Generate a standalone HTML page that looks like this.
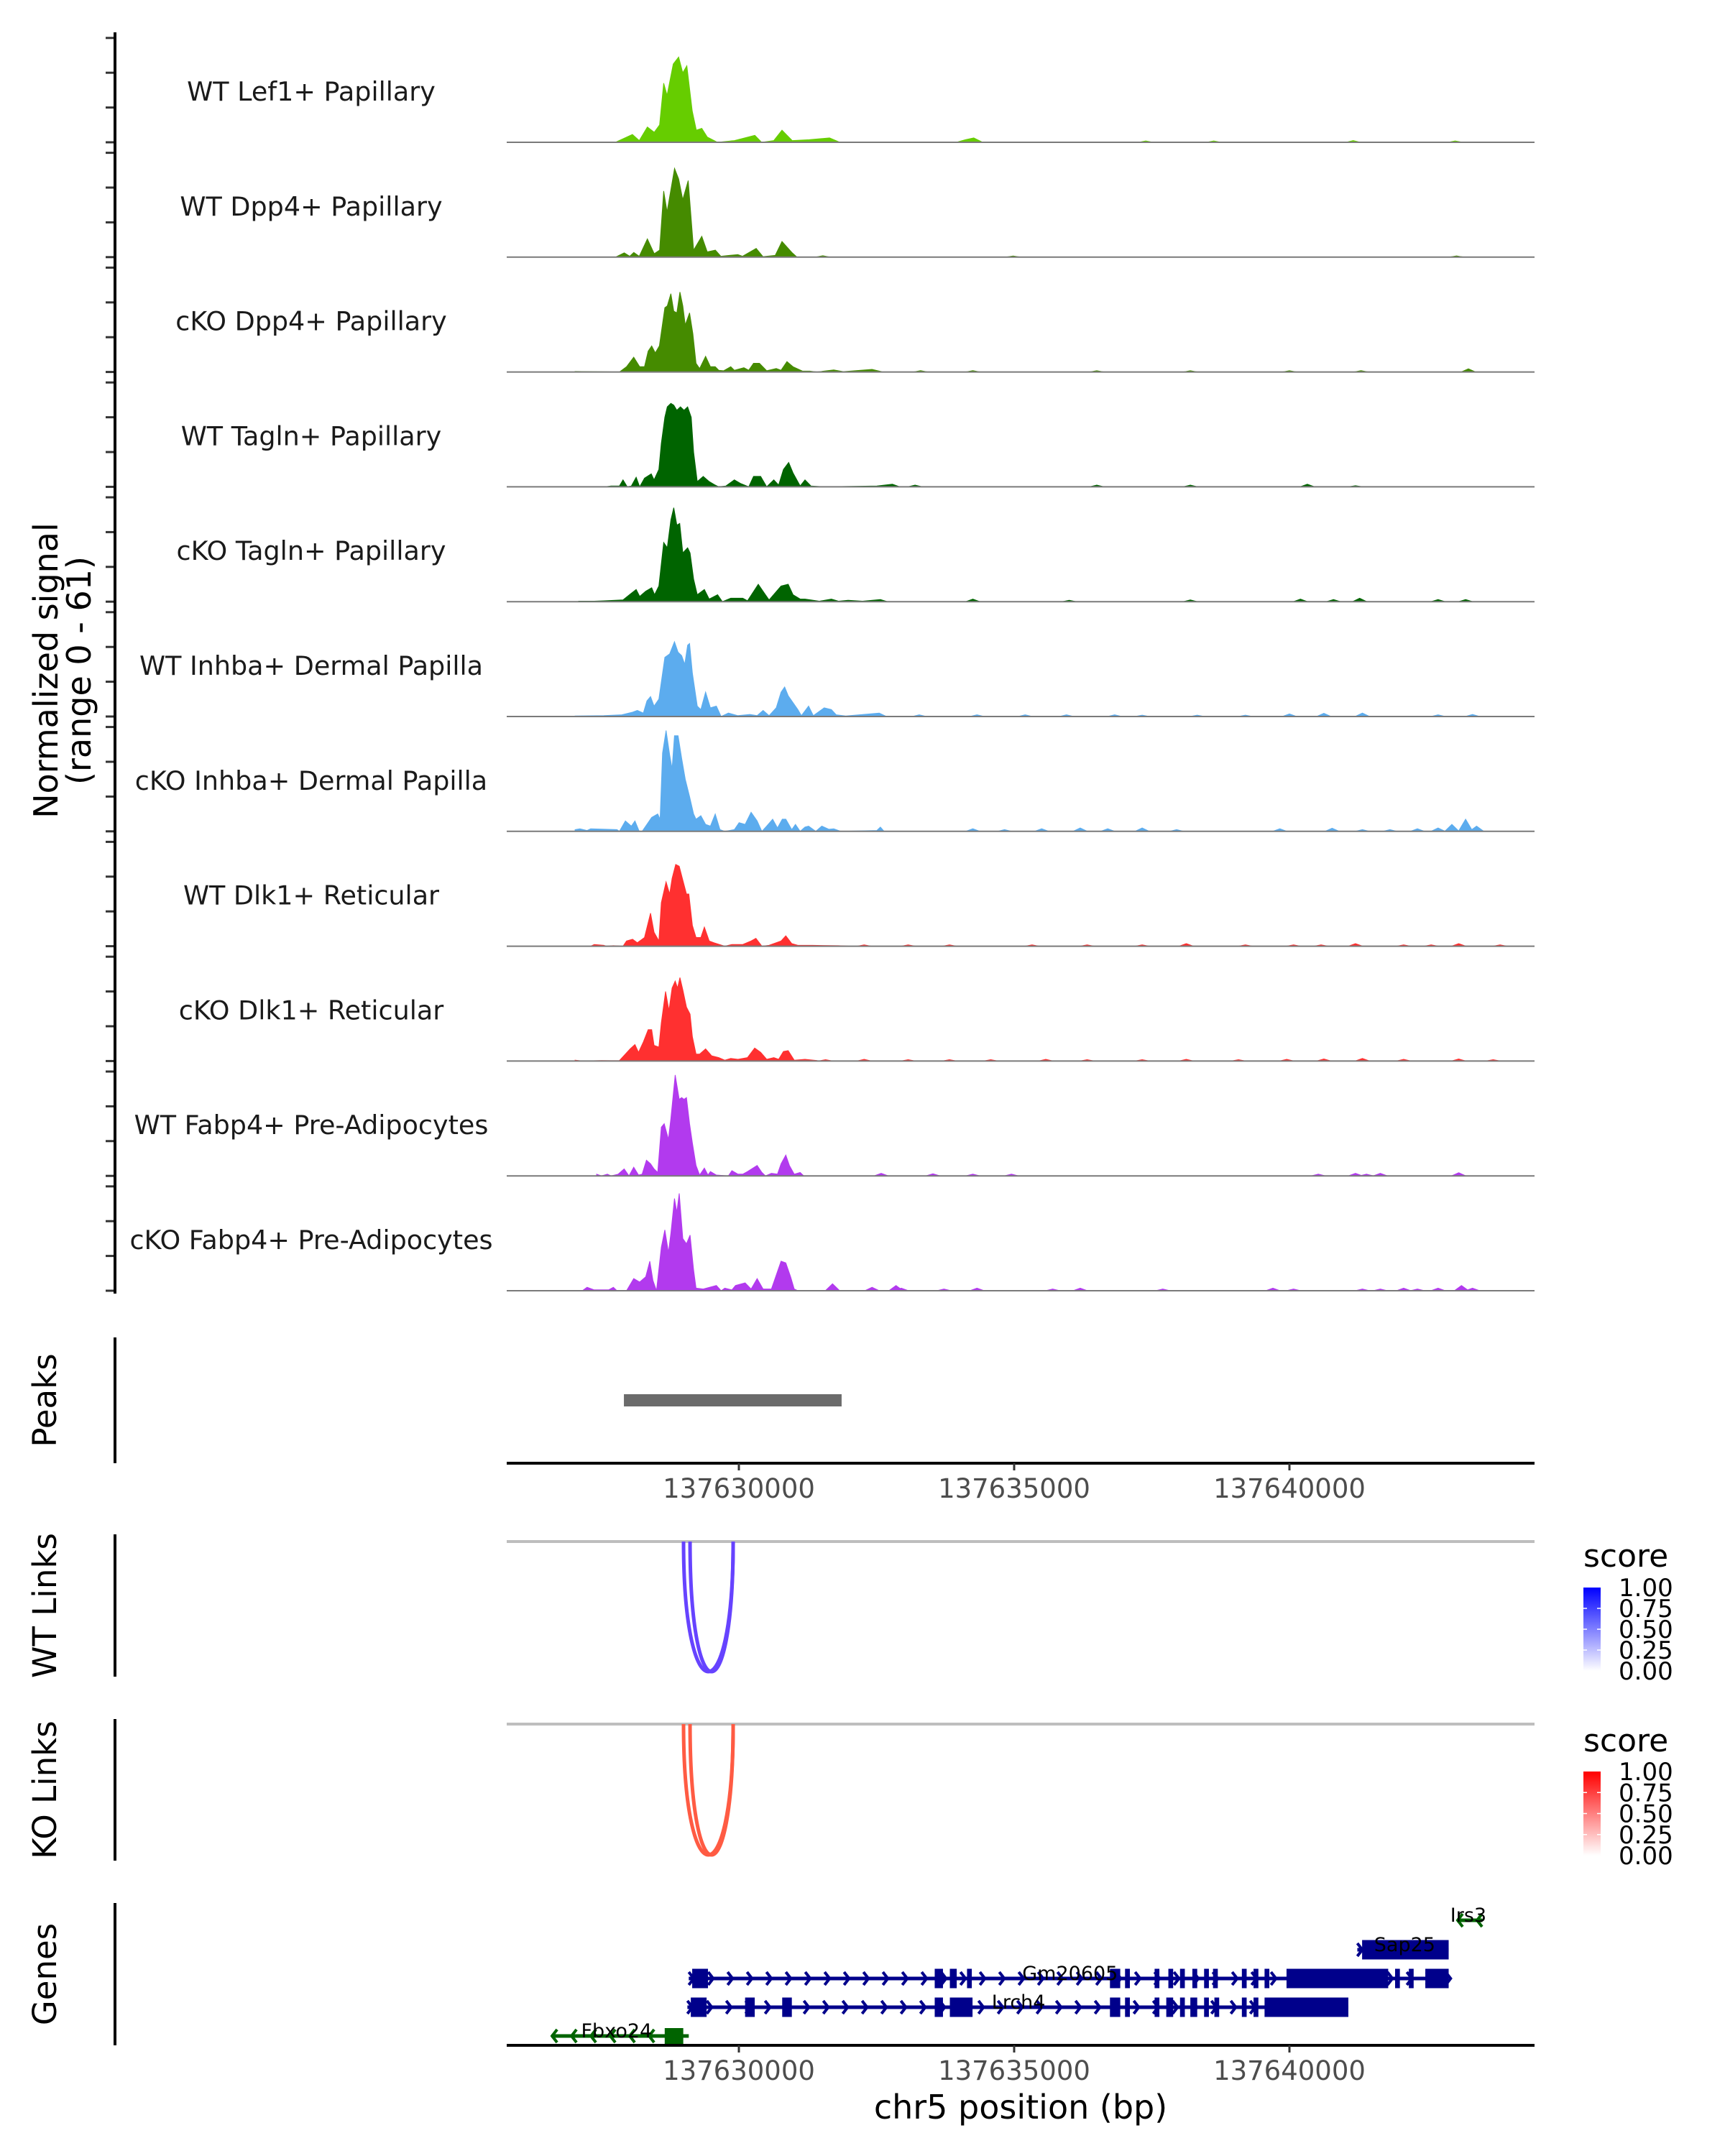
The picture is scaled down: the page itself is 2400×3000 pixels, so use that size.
<!DOCTYPE html>
<html>
<head>
<meta charset="utf-8">
<style>
  html, body { margin: 0; padding: 0; background: #ffffff; }
  svg { display: block; }
  text { font-family: "DejaVu Sans", "Liberation Sans", sans-serif; }
</style>
</head>
<body>
<svg id="chart" xmlns="http://www.w3.org/2000/svg" width="2400" height="3000" viewBox="0 0 2400 3000">
  <rect x="0" y="0" width="2400" height="3000" fill="#ffffff"/>
</svg>
<script>
// ---------------- DATA ----------------
const trackNames = ["WT Lef1+ Papillary","WT Dpp4+ Papillary","cKO Dpp4+ Papillary","WT Tagln+ Papillary","cKO Tagln+ Papillary","WT Inhba+ Dermal Papilla","cKO Inhba+ Dermal Papilla","WT Dlk1+ Reticular","cKO Dlk1+ Reticular","WT Fabp4+ Pre-Adipocytes","cKO Fabp4+ Pre-Adipocytes"];
const trackColors = ["#66CD00","#458B00","#458B00","#006400","#006400","#5CACEE","#5CACEE","#FF3030","#FF3030","#B23AEE","#B23AEE"];
const xTickValues = [137630000, 137635000, 137640000];
const xTickLabels = ["137630000", "137635000", "137640000"];
const yTickValues = [0, 20, 40, 60];

const t1Pos = [137627758,137628067,137628190,137628338,137628462,137628560,137628635,137628696,137628808,137628906,137628980,137629055,137629153,137629227,137629326,137629425,137629610,137629919,137630290,137630413,137630635,137630783,137630969,137631278,137631648,137631833,137633950,137634118,137634266,137634427];
const t1Val = [0,4.5,1,8.8,5.8,10,34,27,45,49,40,44,18,7,8,3,0,1,4,0,1,7,1,1.5,2.5,0,0,1.5,2.5,0];
const t1BumpPos = [137637390,137638625,137641158,137643010];
const t1BumpVal = [0.8,0.8,1,0.8];

const t2Pos = [137627758,137627918,137628017,137628091,137628190,137628338,137628462,137628560,137628635,137628696,137628832,137628906,137628980,137629079,137629178,137629326,137629425,137629573,137629672,137629980,137630067,137630314,137630437,137630660,137630783,137630969,137631055];
const t2Val = [0,2.5,0.5,2.7,0.5,10.5,2,4,38,26,51,45,33,44,4,12,3,4,0.5,1.5,0.5,5,0.3,1,9,2.5,0];
const t2BumpPos = [137631525,137634982,137643035];
const t2BumpVal = [0.8,0.6,0.7];

const t3Pos = [137627025,137627830,137627960,137628090,137628199,137628286,137628352,137628417,137628482,137628556,137628656,137628700,137628765,137628817,137628874,137628930,137628982,137629026,137629104,137629165,137629222,137629287,137629396,137629483,137629570,137629635,137629722,137629852,137629918,137630092,137630179,137630266,137630374,137630505,137630679,137630766,137630874,137630983,137631158,137631288,137631419,137631723,137631897,137632419,137632593];
const t3Val = [0.3,0,3,8.5,3,3,12,15,11,15,37,38,45,35,34,46,38,27,34,22,5,2,9,3,3,1,0.7,3,1,2.5,1,5,5,0.7,2,1,6,3,0.5,0.5,0,1.2,0.2,1.5,0.2];
const t3BumpPos = [137633300,137634250,137636500,137638200,137640000,137641300,137643250];
const t3BumpVal = [0.8,0.8,0.7,0.7,0.7,0.8,1.8];

const t4Pos = [137627569,137627677,137627830,137627895,137627973,137628047,137628134,137628199,137628286,137628408,137628460,137628547,137628591,137628656,137628700,137628765,137628817,137628874,137628939,137629004,137629069,137629135,137629178,137629244,137629352,137629461,137629570,137629635,137629765,137629918,137630026,137630179,137630266,137630396,137630505,137630635,137630722,137630809,137630905,137630983,137631114,137631201,137631310,137631549,137632506,137632789,137632898];
const t4Val = [0,0.5,0.5,4,0,0.5,5.5,0,5,7.5,4,10,25,40,46,48,47,44,46,44,46,40,20,3,6,3,1,0,0.5,4,2,0,6,6,0,4,1,10,14,8,0.5,4,0.5,0,0.5,1.5,0.3];
const t4BumpPos = [137633200,137636500,137638200,137640325,137641200];
const t4BumpVal = [1,1,1,1.5,0.6];

const t5Pos = [137627090,137627373,137627547,137627895,137628034,137628134,137628199,137628308,137628417,137628469,137628547,137628634,137628700,137628765,137628817,137628874,137628926,137628982,137629069,137629113,137629178,137629244,137629374,137629461,137629613,137629700,137629852,137630070,137630157,137630353,137630461,137630548,137630766,137630896,137630983,137631114,137631201,137631462,137631680,137631810,137631984,137632245,137632571,137632680];
const t5Val = [0.3,0.3,0.5,1,4.5,7,3,6,8,4,9,34,31,47,54,44,45,28,31,28,13,4,7,1.5,4,0,2,2,0.5,10,5,1,9,10,4,1.5,1.5,0.3,1.5,0.3,0.8,0.3,1.2,0.2];
const t5BumpPos = [137634250,137636000,137638200,137640200,137640800,137641275,137642700,137643200];
const t5BumpVal = [1.5,0.8,1,1.5,1.2,2,1.2,1.2];

const t6Pos = [137627025,137627547,137627873,137628069,137628156,137628265,137628330,137628395,137628460,137628547,137628656,137628743,137628830,137628895,137628961,137629017,137629069,137629104,137629156,137629244,137629309,137629396,137629483,137629591,137629678,137629809,137629983,137630200,137630331,137630440,137630548,137630679,137630766,137630831,137630896,137630983,137631070,137631136,137631266,137631353,137631549,137631680,137631767,137631941,137632550,137632680];
const t6Val = [0.3,0.5,1,2.5,3.5,2,9,11.5,6,10,34,36,43,37,35,30,41,42,25,6,4,14,5,6,0,2,0.5,1.2,0.5,3.5,0.5,5,14,17,12,8,4,0.5,6,0.5,5,4,1,0.3,2,0];
const t6BumpPos = [137633275,137634325,137635200,137635950,137636825,137637325,137638325,137639200,137640000,137640625,137641325,137642700,137643325];
const t6BumpVal = [1,1,1,1,1,0.8,0.8,0.8,1.5,1.8,2,1,1.2];

const t7Pos = [137627025,137627112,137627243,137627308,137627786,137627830,137627938,137628047,137628112,137628191,137628243,137628417,137628526,137628569,137628613,137628678,137628743,137628787,137628830,137628895,137628961,137629026,137629104,137629178,137629222,137629309,137629396,137629483,137629570,137629657,137629744,137629918,137630004,137630113,137630222,137630331,137630418,137630505,137630614,137630701,137630788,137630853,137630961,137631027,137631114,137631201,137631266,137631397,137631506,137631636,137631723,137631854,137632506,137632571,137632637];
const t7Val = [1,1.5,0.5,1.5,1,0,6,3,6,0,0,8,10,7,45,58,44,36,55,55,42,30,20,10,7,9,4,3,10,1,0,1,5,4,11,6,0,3,7,2,7,7,1,4,0,2.5,3,0,3,1.2,1.5,0,0.5,2.5,0];
const t7BumpPos = [137634250,137634825,137635500,137636200,137636700,137637325,137637950,137639825,137640775,137641325,137641825,137642325,137642700,137642950,137643200,137643400];
const t7BumpVal = [1.5,1,1.5,2,1.5,2,1,1.5,1.8,1,1,1.5,2,4,7,3];

const t8Pos = [137627308,137627373,137627547,137627590,137627721,137627895,137627960,137628069,137628156,137628286,137628395,137628460,137628547,137628591,137628678,137628743,137628787,137628852,137628917,137628982,137629048,137629091,137629156,137629222,137629309,137629374,137629461,137629548,137629744,137629874,137630070,137630222,137630309,137630418,137630548,137630766,137630853,137630961,137631070,137631332,137631810,137632028];
const t8Val = [0,1,0.5,0,0.3,0,3,4,2,5,19,8,3,25,37,30,39,47,46,38,30,30,12,5,5,11,3,2,0,1,1,3,4.5,0,0.5,3,6,1.5,0.5,0.5,0.3,0];
const t8BumpPos = [137632275,137633075,137633825,137635325,137636325,137637325,137638125,137639200,137640075,137640575,137641200,137642075,137642575,137643075,137643825];
const t8BumpVal = [0.8,0.8,0.8,0.8,0.8,0.8,1.5,0.8,0.8,0.8,1.5,0.8,0.8,1.5,0.8];

const t9Pos = [137627025,137627155,137627504,137627677,137627830,137627938,137628025,137628112,137628178,137628265,137628352,137628417,137628460,137628547,137628591,137628669,137628730,137628787,137628843,137628887,137628930,137628982,137629048,137629113,137629156,137629222,137629287,137629396,137629505,137629635,137629744,137629852,137629983,137630157,137630287,137630396,137630505,137630635,137630722,137630809,137630896,137631005,137631201,137631419];
const t9Val = [0.5,0,0.3,0.2,0.3,4,7,9.5,5,11,18,18,9,8,22,40,29,42,46,42,48,41,31,27,14,4,4,7,3,2,0.5,1.5,1,2,7.5,5,1,2,1,5.5,6,0.5,1,0.3];
const t9BumpPos = [137631575,137632275,137633075,137633825,137634575,137635575,137636325,137637325,137638125,137639075,137639950,137640625,137641325,137642075,137643075,137643700];
const t9BumpVal = [0.8,1,0.8,0.8,0.8,1,0.8,0.8,1,0.8,1,1.2,1.5,1,1.2,0.8];

const t10Pos = [137627417,137627504,137627612,137627677,137627808,137627917,137628004,137628090,137628178,137628243,137628321,137628395,137628460,137628526,137628591,137628643,137628721,137628765,137628843,137628917,137628961,137629004,137629048,137629104,137629156,137629222,137629287,137629374,137629439,137629483,137629591,137629809,137629874,137629983,137630070,137630157,137630331,137630418,137630483,137630592,137630701,137630766,137630853,137630918,137631005,137631114,137631179];
const t10Val = [1,0,1,0,1,4,0,5,0.5,1,9,7,4,2,28,30,21,33,58,44,45,44,45,30,19,6,0.5,4.5,0.5,2.5,0.5,0,3,1,1,2.5,6,2,0,1.5,1,7,12,6,1,2,0];
const t10BumpPos = [137632585,137633525,137634250,137634950,137640525,137641200,137641400,137641650,137643075];
const t10BumpVal = [1.5,1.2,1,1,1,1.5,1,1.5,1.8];

const t11Pos = [137627155,137627243,137627373,137627634,137627721,137627786,137627960,137628090,137628199,137628308,137628382,137628439,137628504,137628591,137628656,137628721,137628765,137628830,137628874,137628917,137628982,137629048,137629113,137629178,137629222,137629352,137629591,137629678,137629744,137629874,137629939,137630113,137630222,137630331,137630440,137630592,137630766,137630853,137630940,137631005,137631070];
const t11Val = [0,2,0.5,0.5,2,0,0,7,5,8,17,6,0,25,35,22,33,53,45,56,30,27,32,12,1.5,1,3,0,1.5,0.5,3,4.5,1,7,1,1,17,16,8,1,0];
const t11BumpPos = [137631701,137632419,137632854,137632950,137633725,137634325,137635700,137636200,137637700,137639700,137640075,137641325,137641650,137642075,137642325,137642700,137643125,137643325];
const t11BumpVal = [4,2,3,1.5,1,1.5,1,1.5,1,1.5,1,1,1,1.5,1,1.5,3,1.5];

const peakStarts = [137627912];
const peakEnds = [137631866];

const wtLinkStarts = [137628995, 137629113];
const wtLinkEnds = [137629896, 137629896];
const wtLinkScores = [0.8, 0.8];
const koLinkStarts = [137628995, 137629113];
const koLinkEnds = [137629896, 137629896];
const koLinkScores = [0.8, 0.8];
const legendTickValues = [1.00, 0.75, 0.50, 0.25, 0.00];
const legendTickLabels = ["1.00", "0.75", "0.50", "0.25", "0.00"];

const geneNames = ["Irs3", "Sap25", "Gm20605", "Lrch4", "Fbxo24"];
const geneStarts = [137643042, 137641233, 137629090, 137629065, 137626594];
const geneEnds = [137643504, 137642892, 137642892, 137641070, 137629090];
const geneStrands = ["-", "+", "+", "+", "-"];
const geneRows = [0, 1, 2, 3, 4];
const geneLabelPos = [137643250, 137642094, 137636016, 137635080, 137627779];
const exonStartsIrs3 = [];
const exonEndsIrs3 = [];
const exonStartsSap25 = [137641320];
const exonEndsSap25 = [137642892];
const exonStartsGm20605 = [137629152,137633557,137633832,137634144,137636740,137637014,137637551,137637801,137638013,137638237,137638450,137638612,137639136,137639348,137639548,137639947,137641919,137642169,137642468];
const exonEndsGm20605 = [137629439,137633707,137633957,137634231,137636927,137637102,137637638,137637888,137638100,137638325,137638537,137638699,137639223,137639436,137639635,137641794,137642006,137642256,137642892];
const exonStartsLrch4 = [137629127,137630113,137630787,137633557,137633832,137636740,137637014,137637551,137637763,137638013,137638200,137638450,137638637,137639136,137639348,137639548];
const exonEndsLrch4 = [137629414,137630288,137630962,137633707,137634244,137636927,137637102,137637638,137637888,137638100,137638325,137638537,137638724,137639223,137639436,137641070];
const exonStartsFbxo24 = [137628653];
const exonEndsFbxo24 = [137628990];

// ---------------- LAYOUT ----------------
const svg = document.getElementById('chart');
const NS = 'http://www.w3.org/2000/svg';
const X0 = 705, X1 = 2135;
const REF_BP = 137630000, REF_X = 1028, PX_PER_BP = 383 / 5000;
function xScale(bp) { return REF_X + (bp - REF_BP) * PX_PER_BP; }
const BASE0 = 198, TRACK_STEP = 159.8, PX_PER_UNIT = 2.42;
function trackBase(i) { return BASE0 + TRACK_STEP * i; }
function yScale(i, v) { return trackBase(i) - v * PX_PER_UNIT; }

function mk(tag, attrs, parent) {
  const el = document.createElementNS(NS, tag);
  for (const k in attrs) el.setAttribute(k, attrs[k]);
  (parent || svg).appendChild(el);
  return el;
}

const posList = [t1Pos,t2Pos,t3Pos,t4Pos,t5Pos,t6Pos,t7Pos,t8Pos,t9Pos,t10Pos,t11Pos];
const valList = [t1Val,t2Val,t3Val,t4Val,t5Val,t6Val,t7Val,t8Val,t9Val,t10Val,t11Val];
const bumpPosList = [t1BumpPos,t2BumpPos,t3BumpPos,t4BumpPos,t5BumpPos,t6BumpPos,t7BumpPos,t8BumpPos,t9BumpPos,t10BumpPos,t11BumpPos];
const bumpValList = [t1BumpVal,t2BumpVal,t3BumpVal,t4BumpVal,t5BumpVal,t6BumpVal,t7BumpVal,t8BumpVal,t9BumpVal,t10BumpVal,t11BumpVal];

// ---------------- COVERAGE TRACKS ----------------
for (let i = 0; i < trackNames.length; i++) {
  const g = mk('g', {});
  
  
  const base = trackBase(i);
  const pos = posList[i], val = valList[i];
  let d = 'M' + xScale(pos[0]).toFixed(1) + ',' + base;
  for (let k = 0; k < pos.length; k++) {
    d += ' L' + xScale(pos[k]).toFixed(1) + ',' + yScale(i, val[k]).toFixed(1);
  }
  d += ' L' + xScale(pos[pos.length - 1]).toFixed(1) + ',' + base + ' Z';
  const area = mk('path', { d: d, fill: trackColors[i], stroke: trackColors[i], 'stroke-width': 1 }, g);
  
  
  const bp = bumpPosList[i], bv = bumpValList[i];
  for (let k = 0; k < bp.length; k++) {
    const cx = xScale(bp[k]);
    const bump = mk('path', { d: 'M' + (cx - 10).toFixed(1) + ',' + base + ' L' + cx.toFixed(1) + ',' + yScale(i, bv[k]).toFixed(1) + ' L' + (cx + 10).toFixed(1) + ',' + base + ' Z', fill: trackColors[i], stroke: trackColors[i], 'stroke-width': 1 }, g);
    
    
  }
  const bl = mk('line', { x1: X0, x2: X1, y1: base, y2: base, stroke: '#7a7a7a', 'stroke-width': 2 }, g);
  
  
  const lab = mk('text', { x: 433, y: base - 58, 'text-anchor': 'middle', 'font-size': 36.5, fill: '#1a1a1a' }, g);
  lab.textContent = trackNames[i];
  
  
  for (let k = 0; k < yTickValues.length; k++) {
    const ty = yScale(i, yTickValues[k]);
    const tk = mk('line', { x1: 147, x2: 159, y1: ty, y2: ty, stroke: '#333333', 'stroke-width': 3 }, g);
    
    
  }
}
const yAxis = mk('line', { x1: 160, x2: 160, y1: 45, y2: 1800, stroke: '#000', 'stroke-width': 4 });


const yTitle = mk('text', { transform: 'translate(80,933) rotate(-90)', 'text-anchor': 'middle', 'font-size': 46, fill: '#000' });
yTitle.textContent = 'Normalized signal';


const yTitle2 = mk('text', { transform: 'translate(126,933) rotate(-90)', 'text-anchor': 'middle', 'font-size': 46, fill: '#000' });
yTitle2.textContent = '(range 0 - 61)';



// ---------------- SIDE PANELS ----------------
function panelAxis(name, title, y1, y2) {
  const ax = mk('line', { x1: 160, x2: 160, y1: y1, y2: y2, stroke: '#000', 'stroke-width': 4 });
  
  
  const t = mk('text', { transform: 'translate(78,' + ((y1 + y2) / 2) + ') rotate(-90)', 'text-anchor': 'middle', 'font-size': 45, fill: '#000' });
  t.textContent = title;
  
  
}
panelAxis('peaks', 'Peaks', 1861, 2036);
panelAxis('wt-links', 'WT Links', 2135, 2333);
panelAxis('ko-links', 'KO Links', 2392, 2589);
panelAxis('genes', 'Genes', 2648, 2846);

// Peaks
for (let k = 0; k < peakStarts.length; k++) {
  const r = mk('rect', { x: xScale(peakStarts[k]), y: 1940, width: xScale(peakEnds[k]) - xScale(peakStarts[k]), height: 17, fill: '#6b6b6b' });
  
  
}

// X axes
function xAxis(name, y, labelY) {
  const g = mk('g', {});
  
  
  const ln = mk('line', { x1: X0, x2: X1, y1: y, y2: y, stroke: '#000', 'stroke-width': 4 }, g);
  
  
  for (let k = 0; k < xTickValues.length; k++) {
    const tx = xScale(xTickValues[k]);
    const tk = mk('line', { x1: tx, x2: tx, y1: y, y2: y + 10, stroke: '#333', 'stroke-width': 3 }, g);
    
    
    const tl = mk('text', { x: tx, y: labelY, 'text-anchor': 'middle', 'font-size': 37, fill: '#4d4d4d' }, g);
    tl.textContent = xTickLabels[k];
    
    
  }
}
xAxis('peaks-x-axis', 2036, 2084);
xAxis('genes-x-axis', 2846, 2894);
const xTitle = mk('text', { x: 1420, y: 2948, 'text-anchor': 'middle', 'font-size': 46, fill: '#000' });
xTitle.textContent = 'chr5 position (bp)';



// Links
function linkPanel(name, top, bottom, starts, ends, scores, rgb) {
  const gl = mk('line', { x1: X0, x2: X1, y1: top, y2: top, stroke: '#bebebe', 'stroke-width': 4 });
  
  
  const depth = bottom - top;
  for (let k = 0; k < starts.length; k++) {
    const xa = xScale(starts[k]), xb = xScale(ends[k]);
    const s = scores[k];
    const col = 'rgb(' + Math.round(255 + (rgb[0] - 255) * s) + ',' + Math.round(255 + (rgb[1] - 255) * s) + ',' + Math.round(255 + (rgb[2] - 255) * s) + ')';
    const cy = top + depth * 4 / 3;
    const p = mk('path', { d: 'M' + xa + ',' + top + ' C' + xa + ',' + cy + ' ' + xb + ',' + cy + ' ' + xb + ',' + top, fill: 'none', stroke: col, 'stroke-width': 5 });
    
    
  }
}
linkPanel('wt-links', 2145, 2326, wtLinkStarts, wtLinkEnds, wtLinkScores, [64, 20, 255]);
linkPanel('ko-links', 2399, 2581, koLinkStarts, koLinkEnds, koLinkScores, [255, 50, 20]);

// Legends
const defs = mk('defs', {});
function legend(name, gradId, color, titleY, barTop, barBot) {
  const lg = mk('linearGradient', { id: gradId, x1: 0, y1: 1, x2: 0, y2: 0 }, defs);
  mk('stop', { offset: '0', 'stop-color': '#ffffff' }, lg);
  mk('stop', { offset: '1', 'stop-color': color }, lg);
  const g = mk('g', {});
  
  
  const t = mk('text', { x: 2203, y: titleY, 'font-size': 44, fill: '#000' }, g);
  t.textContent = 'score';
  
  
  const bar = mk('rect', { x: 2203, y: barTop, width: 24, height: barBot - barTop, fill: 'url(#' + gradId + ')' }, g);
  
  
  for (let k = 0; k < legendTickValues.length; k++) {
    const ty = barBot - legendTickValues[k] * (barBot - barTop);
    const lbl = mk('text', { x: 2252, y: ty + 12, 'font-size': 34, fill: '#000' }, g);
    lbl.textContent = legendTickLabels[k];
    
    
    if (legendTickValues[k] > 0 && legendTickValues[k] < 1) {
      const a = mk('line', { x1: 2203, x2: 2208, y1: ty, y2: ty, stroke: '#fff', 'stroke-width': 1.5 }, g);
      
      
      const b = mk('line', { x1: 2222, x2: 2227, y1: ty, y2: ty, stroke: '#fff', 'stroke-width': 1.5 }, g);
      
      
    }
  }
}
legend('wt-score-legend', 'gradBlue', '#0000ff', 2180, 2209, 2325);
legend('ko-score-legend', 'gradRed', '#ff0000', 2437, 2465, 2582);

// Genes
const exonStartList = [exonStartsIrs3, exonStartsSap25, exonStartsGm20605, exonStartsLrch4, exonStartsFbxo24];
const exonEndList = [exonEndsIrs3, exonEndsSap25, exonEndsGm20605, exonEndsLrch4, exonEndsFbxo24];
const rowY = [2672, 2713, 2753, 2793, 2833];
for (let gi = 0; gi < geneNames.length; gi++) {
  const fwd = geneStrands[gi] === '+';
  const col = fwd ? '#00008B' : '#006400';
  const y = rowY[geneRows[gi]];
  const g = mk('g', {});
  
  
  const xa = xScale(geneStarts[gi]), xb = xScale(geneEnds[gi]);
  const ln = mk('line', { x1: xa, x2: xb, y1: y, y2: y, stroke: col, 'stroke-width': 5 }, g);
  
  
  for (let cx = xa + 4; cx <= xb; cx += 27) {
    const pts = fwd ? (cx - 4) + ',' + (y - 9) + ' ' + (cx + 3) + ',' + y + ' ' + (cx - 4) + ',' + (y + 9)
                    : (cx + 4) + ',' + (y - 9) + ' ' + (cx - 3) + ',' + y + ' ' + (cx + 4) + ',' + (y + 9);
    const ch = mk('polyline', { points: pts, fill: 'none', stroke: col, 'stroke-width': 4 }, g);
    
    
  }
  const es = exonStartList[gi], ee = exonEndList[gi];
  const h = geneNames[gi] === 'Fbxo24' ? 22 : 27;
  for (let k = 0; k < es.length; k++) {
    const ex = mk('rect', { x: xScale(es[k]), y: y - h / 2, width: Math.max(5, xScale(ee[k]) - xScale(es[k])), height: h, fill: col }, g);
    
    
  }
  const lab = mk('text', { x: xScale(geneLabelPos[gi]), y: y + 2, 'text-anchor': 'middle', 'font-size': 27, fill: '#000' }, g);
  lab.textContent = geneNames[gi];
  
  
}
</script>
</body>
</html>
